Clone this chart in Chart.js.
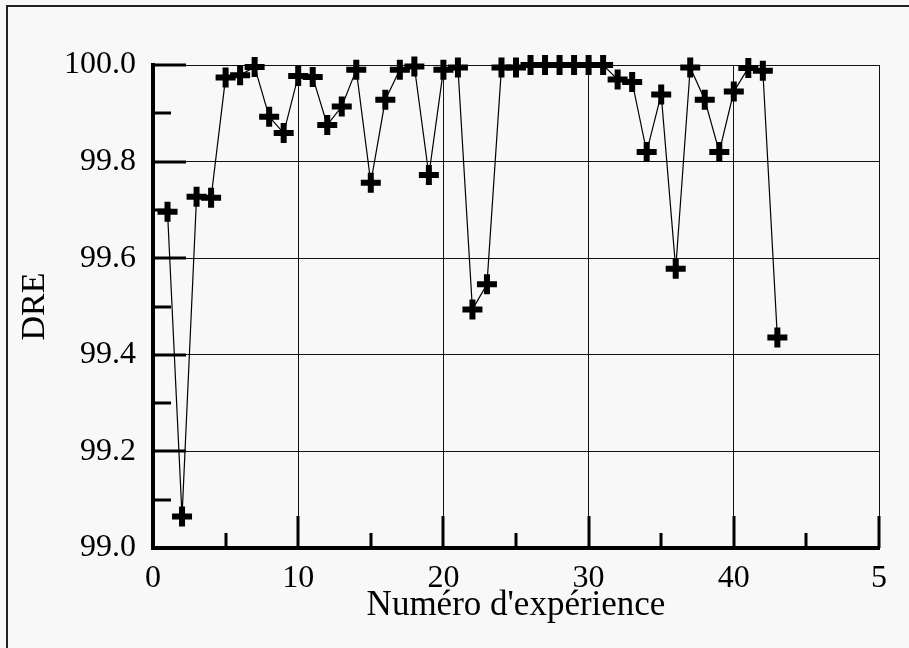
<!DOCTYPE html>
<html>
<head>
<meta charset="utf-8">
<script src="https://cdn.jsdelivr.net/npm/chart.js@4/dist/chart.umd.min.js"></script>
<style>
  html, body { margin: 0; padding: 0; background: #f8f8f8; }
  #wrap { width: 909px; height: 648px; }
</style>
</head>
<body>
<div id="wrap"><canvas id="c" width="909" height="648"></canvas></div>
<script>
// Experiment number and destruction-removal efficiency (DRE, %)
const experiences = [1, 2, 3, 4, 5, 6, 7, 8, 9, 10,
  11, 12, 13, 14, 15, 16, 17, 18, 19, 20,
  21, 22, 23, 24, 25, 26, 27, 28, 29, 30,
  31, 32, 33, 34, 35, 36, 37, 38, 39, 40,
  41, 42, 43];
const dre = [99.696, 99.065, 99.727, 99.725, 99.974, 99.979, 99.996, 99.893, 99.859, 99.977,
  99.975, 99.876, 99.914, 99.990, 99.756, 99.928, 99.990, 99.997, 99.772, 99.990,
  99.995, 99.494, 99.546, 99.995, 99.995, 100.0, 100.0, 100.0, 100.0, 100.0,
  100.0, 99.970, 99.965, 99.820, 99.939, 99.578, 99.995, 99.928, 99.820, 99.945,
  99.994, 99.988, 99.436];

const xTickValues = [0, 10, 20, 30, 40, 50];
const xTickLabels = ['0', '10', '20', '30', '40', '5'];
const xMinorValues = [5, 15, 25, 35, 45];
const yTickValues = [99.0, 99.2, 99.4, 99.6, 99.8, 100.0];
const yMinorValues = [99.1, 99.3, 99.5, 99.7, 99.9];

const INK = '#000';
const SERIF = "'Liberation Serif', 'Times New Roman', serif";

// page background and the frame around the figure
const framePlugin = {
  id: 'frame',
  beforeDraw(chart) {
    const ctx = chart.ctx;
    ctx.save();
    ctx.fillStyle = '#f8f8f8';
    ctx.fillRect(0, 0, chart.width, chart.height);
    ctx.strokeStyle = '#222';
    ctx.lineWidth = 2;
    ctx.beginPath();
    ctx.moveTo(7, chart.height);
    ctx.lineTo(7, 6);
    ctx.lineTo(chart.width, 6);
    ctx.stroke();
    ctx.restore();
  }
};

// inward tick marks on the left and bottom axes
const innerTicks = {
  id: 'innerTicks',
  afterDatasetsDraw(chart) {
    const { ctx, chartArea, scales } = chart;
    const xs = scales.x, ys = scales.y;
    ctx.save();
    ctx.strokeStyle = INK;
    ctx.lineWidth = 3;
    ctx.beginPath();
    yTickValues.forEach(v => {
      const p = Math.round(ys.getPixelForValue(v));
      ctx.moveTo(chartArea.left, p);
      ctx.lineTo(chartArea.left + 33, p);
    });
    yMinorValues.forEach(v => {
      const p = Math.round(ys.getPixelForValue(v));
      ctx.moveTo(chartArea.left, p);
      ctx.lineTo(chartArea.left + 18, p);
    });
    xTickValues.forEach(v => {
      const p = Math.round(xs.getPixelForValue(v));
      ctx.moveTo(p, chartArea.bottom);
      ctx.lineTo(p, chartArea.bottom - 32);
    });
    xMinorValues.forEach(v => {
      const p = Math.round(xs.getPixelForValue(v));
      ctx.moveTo(p, chartArea.bottom);
      ctx.lineTo(p, chartArea.bottom - 15);
    });
    ctx.stroke();
    ctx.restore();
  }
};

new Chart(document.getElementById('c'), {
  type: 'line',
  data: {
    datasets: [{
      data: experiences.map((x, i) => ({ x: x, y: dre[i] })),
      borderColor: INK,
      borderWidth: 1.2,
      pointStyle: 'cross',
      pointRadius: 10,
      pointBorderWidth: 6,
      pointBorderColor: INK,
      pointBackgroundColor: INK,
      tension: 0,
      clip: false
    }]
  },
  options: {
    responsive: false,
    animation: false,
    events: [],
    layout: { padding: { top: 65, right: 30, bottom: 0, left: 0 } },
    plugins: { legend: { display: false }, tooltip: { enabled: false } },
    scales: {
      x: {
        type: 'linear',
        min: 0, max: 50,
        afterBuildTicks: s => { s.ticks = xTickValues.map(v => ({ value: v })); },
        afterFit: s => { s.height = 100; },
        ticks: {
          color: INK,
          padding: 11,
          maxRotation: 0,
          autoSkip: false,
          font: { family: SERIF, size: 32 },
          callback: (v) => xTickLabels[xTickValues.indexOf(v)]
        },
        grid: {
          drawTicks: false,
          color: c => (c.tick && c.tick.value === 0) ? 'rgba(0,0,0,0)' : '#111',
          lineWidth: 1
        },
        border: { display: true, color: INK, width: 4 },
        title: {
          display: true,
          text: "Numéro d'expérience",
          color: INK,
          font: { family: SERIF, size: 35, weight: 'normal' },
          padding: { top: 0, bottom: 21 }
        }
      },
      y: {
        min: 99, max: 100,
        afterBuildTicks: s => { s.ticks = yTickValues.map(v => ({ value: v })); },
        afterFit: s => { s.width = 153; },
        ticks: {
          color: INK,
          padding: 17,
          autoSkip: false,
          font: { family: SERIF, size: 32 },
          callback: v => Number(v).toFixed(1)
        },
        grid: {
          drawTicks: false,
          color: c => (c.tick && c.tick.value === 99) ? 'rgba(0,0,0,0)' : '#111',
          lineWidth: 1
        },
        border: { display: true, color: INK, width: 4 },
        title: {
          display: true,
          text: 'DRE',
          color: INK,
          font: { family: SERIF, size: 34, weight: 'normal' },
          padding: { top: 15, bottom: 0 }
        }
      }
    }
  },
  plugins: [framePlugin, innerTicks]
});
</script>
</body>
</html>
